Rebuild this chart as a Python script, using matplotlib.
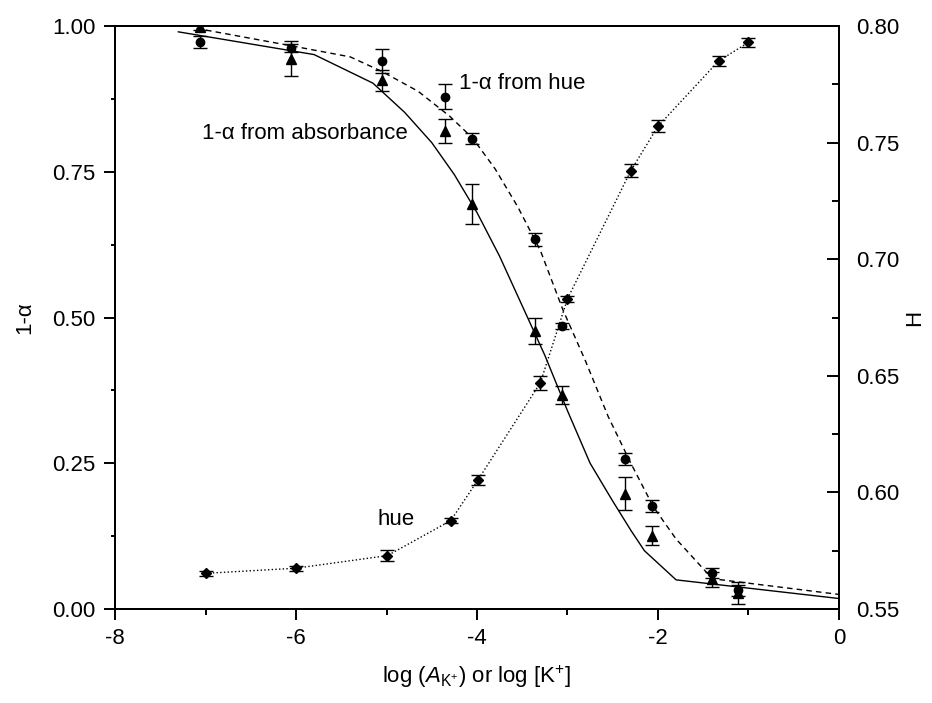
import numpy as np
import matplotlib
matplotlib.use('Agg')
import matplotlib.pyplot as plt
from matplotlib.ticker import MultipleLocator, FormatStrFormatter

plt.rcParams['font.family'] = ['Liberation Sans', 'DejaVu Sans']
plt.rcParams['mathtext.fontset'] = 'custom'
plt.rcParams['mathtext.rm'] = 'Liberation Sans'
plt.rcParams['mathtext.it'] = 'Liberation Sans:italic'
plt.rcParams['axes.unicode_minus'] = False
plt.rcParams['font.size'] = 16

# 1-alpha from hue (circles)
x_hue = [-7.06, -6.05, -5.05, -4.35, -4.06, -3.36, -3.06, -2.36, -2.07, -1.40, -1.12]
a_hue = [0.973, 0.963, 0.940, 0.879, 0.807, 0.634, 0.485, 0.257, 0.177, 0.062, 0.032]
e_hue = [0.010, 0.007, 0.020, 0.022, 0.009, 0.011, 0.005, 0.010, 0.010, 0.008, 0.010]

# 1-alpha from absorbance (triangles)
x_abs = [-7.06, -6.05, -5.05, -4.35, -4.06, -3.36, -3.06, -2.36, -2.07, -1.40, -1.12]
a_abs = [0.998, 0.944, 0.907, 0.820, 0.695, 0.477, 0.367, 0.198, 0.126, 0.051, 0.028]
e_abs = [0.005, 0.030, 0.018, 0.020, 0.034, 0.023, 0.016, 0.029, 0.016, 0.013, 0.019]

# hue H (diamonds, right axis)
x_H = [-7.0, -6.0, -4.99, -4.29, -3.99, -3.30, -3.00, -2.30, -2.00, -1.33, -1.00]
H = [0.5653, 0.5675, 0.5729, 0.5879, 0.6053, 0.6470, 0.6830, 0.7380, 0.7570, 0.7850, 0.7930]
e_H = [0.0010, 0.0010, 0.0022, 0.0012, 0.0020, 0.0030, 0.0013, 0.0028, 0.0025, 0.0020, 0.0020]

# fitted curves
x_fit_abs = [-7.3, -5.8, -5.15, -4.8, -4.5, -4.25, -4.0, -3.75, -3.5, -3.25, -3.0, -2.75,
             -2.5, -2.3, -2.15, -1.8, 0.0]
fit_abs = [0.990, 0.951, 0.902, 0.852, 0.800, 0.745, 0.680, 0.605, 0.520, 0.435, 0.340, 0.250,
           0.185, 0.135, 0.100, 0.050, 0.018]
x_fit_hue = [-7.1, -6.05, -5.4, -5.05, -4.65, -4.3, -4.05, -3.8, -3.55, -3.3, -3.05, -2.8,
             -2.55, -2.3, -2.05, -1.8, -1.4, 0.0]
fit_hue = [0.996, 0.966, 0.947, 0.922, 0.888, 0.845, 0.808, 0.755, 0.690, 0.615, 0.513, 0.425,
           0.330, 0.250, 0.175, 0.120, 0.052, 0.025]

fig = plt.figure(figsize=(9.32, 7.03), dpi=100)
ax = fig.add_axes([0.1234, 0.1337, 0.7768, 0.8293])
ax2 = ax.twinx()

ax.plot(x_fit_abs, fit_abs, '-', color='black', lw=1.0)
ax.plot(x_fit_hue, fit_hue, '--', color='black', lw=1.0, dashes=(4, 3))

ax.errorbar(x_hue, a_hue, yerr=e_hue, fmt='o', color='black', ms=6, capsize=5,
            elinewidth=1, capthick=1)
ax.errorbar(x_abs, a_abs, yerr=e_abs, fmt='^', color='black', ms=7, capsize=5,
            elinewidth=1, capthick=1)

ax2.plot(x_H, H, ':', color='black', lw=1.0)
ax2.errorbar(x_H, H, yerr=e_H, fmt='D', color='black', ms=5.5, capsize=5,
             elinewidth=1, capthick=1)

ax.text(-5.90, 0.816, '1-α from absorbance', ha='center', va='center', fontsize=16)
ax.text(-3.50, 0.902, '1-α from hue', ha='center', va='center', fontsize=16)
ax.text(-4.89, 0.153, 'hue', ha='center', va='center', fontsize=16)

ax.set_xlim(-8, 0)
ax.set_ylim(0, 1)
ax2.set_ylim(0.55, 0.80)

ax.xaxis.set_major_locator(MultipleLocator(2))
ax.xaxis.set_minor_locator(MultipleLocator(1))
ax.yaxis.set_major_locator(MultipleLocator(0.25))
ax.yaxis.set_minor_locator(MultipleLocator(0.125))
ax.yaxis.set_major_formatter(FormatStrFormatter('%.2f'))
ax2.yaxis.set_major_locator(MultipleLocator(0.05))
ax2.yaxis.set_minor_locator(MultipleLocator(0.025))
ax2.yaxis.set_major_formatter(FormatStrFormatter('%.2f'))

ax.tick_params(axis='both', which='major', direction='out', length=8, width=1.4,
               labelsize=16, pad=6)
ax.tick_params(axis='x', which='minor', direction='out', length=4, width=1.4)
ax.tick_params(axis='y', which='minor', direction='out', length=3, width=1.4)
ax2.tick_params(axis='y', which='major', direction='in', length=8.5, width=1.4,
                labelsize=16, pad=12)
ax2.tick_params(axis='y', which='minor', direction='in', length=5, width=1.4)

for a in (ax, ax2):
    for s in a.spines.values():
        s.set_linewidth(1.4)

ax.set_xlabel(r'log ($A_{\mathrm{K}^{+}}$) or log [K$^{+}$]', fontsize=16, labelpad=10)
ax.set_ylabel('1-α', fontsize=16, labelpad=12)
ax2.set_ylabel('H', fontsize=16, labelpad=4)

fig.savefig('out.png', dpi=100)
